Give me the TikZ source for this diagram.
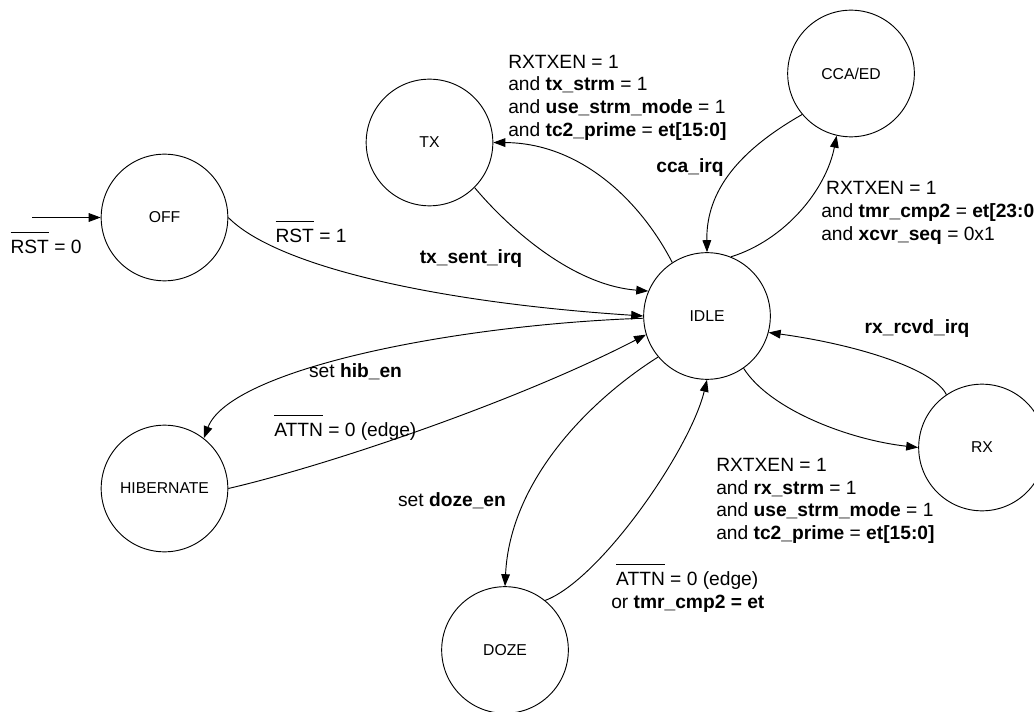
\documentclass[tikz,border=0pt]{standalone}
\usepackage{fontspec}
\setmainfont{Liberation Sans}
\usetikzlibrary{arrows.meta}

% bar over a signal name
\newsavebox{\ovlbox}
\newcommand{\ovl}[1]{\sbox{\ovlbox}{#1}\rlap{\rule[15.5pt]{\wd\ovlbox}{0.6pt}}\usebox{\ovlbox}}

\begin{document}
\begin{tikzpicture}[x=0.75pt, y=0.75pt,
  state/.style={draw, circle, line width=0.7pt, minimum size=95pt, inner sep=0pt,
    font=\fontsize{11.8}{14}\selectfont},
  trans/.style={line width=0.7pt, -{Triangle[length=9pt,width=6.5pt]}},
  lbl/.style={inner sep=0pt, anchor=base, font=\fontsize{14.4}{17}\selectfont},
  cond/.style={lbl, align=left, anchor=north west}]
  % Bounding box
  \useasboundingbox (0,0) rectangle (1034,711);

  % States
  \node[state] (off)  at (164.5,493.5) {OFF};
  \node[state] (tx)   at (429.5,568.5) {TX};
  \node[state] (cca)  at (851,637.5)   {CCA/ED};
  \node[state] (idle) at (707,395)     {IDLE};
  \node[state] (rx)   at (982,263.5)   {RX};
  \node[state] (hib)  at (164.5,222.5) {HIBERNATE};
  \node[state] (doze) at (505,61)      {DOZE};

  % Reset entry
  \coordinate (rstin) at (32,493.5);
  \draw[trans] (rstin) -- (off);

  % Transitions
  \draw[trans] (off.east) .. controls (275,446) and (430,409) .. (idle.west);
  \draw[trans] (tx.-45) .. controls (505,487) and (570,426) .. (idle.157);
  \draw[trans] (idle.123) .. controls (640,511) and (580,568) .. (tx.east);
  \draw[trans] (cca.220) .. controls (740,561) and (706,521) .. (idle.north);
  \draw[trans] (idle.68) .. controls (785,471) and (826,521) .. (cca.257);
  \draw[trans] (idle.-55) .. controls (770,301) and (850,271) .. (rx.west);
  \draw[trans] (rx.124) .. controls (935,341) and (860,366) .. (idle.-15);
  \draw[trans] (idle.182) .. controls (450,386) and (230,341) .. (hib.52);
  \draw[trans] (hib.east) .. controls (330,246) and (520,311) .. (idle.197);
  \draw[trans] (idle.220) .. controls (590,311) and (510,231) .. (doze.north);
  \draw[trans] (doze.51) .. controls (600,131) and (690,261) .. (idle.south);

  % Conditions
  \node[lbl] (rst0) at (46,457.7) {\ovl{RST} = 0};
  \node[lbl] (rst1) at (311,468.7) {\ovl{RST} = 1};
  \node[lbl] (txsent) at (471,447.7) {\textbf{tx\_sent\_irq}};
  \node[cond] (txgo) at (508,656.4) {RXTXEN = 1\\
    and \textbf{tx\_strm} = 1\\
    and \textbf{use\_strm\_mode} = 1\\
    and \textbf{tc2\_prime} = \textbf{et[15:0]}};
  \node[lbl] (ccairq) at (690,538.3) {\textbf{cca\_irq}};
  \node[cond] (ccago) at (821,529.7) {\hspace*{3.7pt}RXTXEN = 1\\
    and \textbf{tmr\_cmp2} = \textbf{et[23:0]}\\
    and \textbf{xcvr\_seq} = 0x1};
  \node[lbl] (rxrcvd) at (917,377.7) {\textbf{rx\_rcvd\_irq}};
  \node[cond] (rxgo) at (716,253) {RXTXEN = 1\\
    and \textbf{rx\_strm} = 1\\
    and \textbf{use\_strm\_mode} = 1\\
    and \textbf{tc2\_prime} = \textbf{et[15:0]}};
  \node[lbl] (hiben) at (355.5,333.3) {set \textbf{hib\_en}};
  \node[lbl, anchor=base west] (hibwake) at (274,274.3) {\ovl{ATTN} = 0 (edge)};
  \node[lbl] (dozeen) at (452,205) {set \textbf{doze\_en}};
  \node[cond] (dozewake) at (611,146.8) {\hspace*{3.7pt}\ovl{ATTN} = 0 (edge)\\
    or \textbf{tmr\_cmp2 = et}};
\end{tikzpicture}
\end{document}
